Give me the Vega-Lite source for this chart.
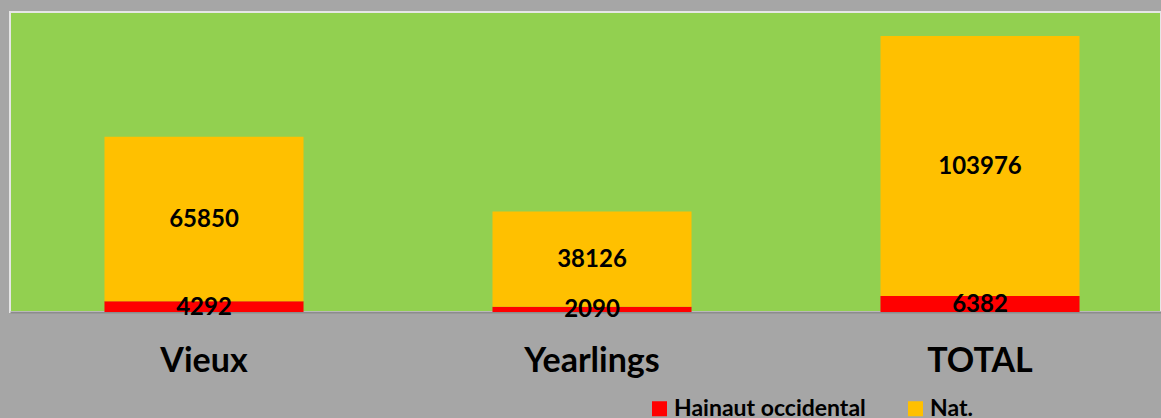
{
  "$schema": "https://vega.github.io/schema/vega-lite/v6.json",
  "autosize": "none",
  "width": 1151,
  "height": 300,
  "padding": {"left": 10, "top": 12, "right": 0, "bottom": 106},
  "background": "#a6a6a6",
  "view": {"fill": "#92d050", "stroke": "#e6e6e6", "strokeWidth": 2},
  "data": {
    "values": [
      {"cat": "Vieux", "series": "Hainaut occidental", "value": 4292},
      {"cat": "Vieux", "series": "Nat.", "value": 65850},
      {"cat": "Yearlings", "series": "Hainaut occidental", "value": 2090},
      {"cat": "Yearlings", "series": "Nat.", "value": 38126},
      {"cat": "TOTAL", "series": "Hainaut occidental", "value": 6382},
      {"cat": "TOTAL", "series": "Nat.", "value": 103976}
    ]
  },
  "transform": [
    {"stack": "value", "groupby": ["cat"], "sort": [{"field": "series", "order": "ascending"}], "as": ["v0", "v1"]},
    {"calculate": "(datum.v0 + datum.v1) / 2", "as": "vmid"}
  ],
  "encoding": {
    "x": {
      "field": "cat",
      "type": "nominal",
      "sort": ["Vieux", "Yearlings", "TOTAL"],
      "scale": {"paddingInner": 0.487, "paddingOuter": 0.2435, "range": [0, 1164]},
      "axis": {
        "title": null,
        "labelAngle": 0,
        "ticks": false,
        "labelFont": "Lato",
        "labelFontWeight": "bold",
        "labelFontSize": 34,
        "labelColor": "#000000",
        "labelPadding": 32,
        "domainColor": "#8c8c8c",
        "domainWidth": 2,
        "grid": false
      }
    }
  },
  "layer": [
    {
      "mark": {"type": "bar"},
      "encoding": {
        "y": {"field": "v0", "type": "quantitative", "scale": {"domain": [0, 120000], "nice": false}, "axis": null},
        "y2": {"field": "v1"},
        "color": {
          "field": "series",
          "type": "nominal",
          "scale": {"domain": ["Hainaut occidental", "Nat."], "range": ["#ff0000", "#ffc000"]},
          "legend": {
            "title": null,
            "orient": "none",
            "direction": "horizontal",
            "legendX": 638,
            "legendY": 385,
            "symbolType": "square",
            "symbolSize": 225,
            "symbolStrokeWidth": 0,
            "symbolOpacity": 1,
            "labelFont": "Lato",
            "labelFontWeight": "bold",
            "labelFontSize": 23,
            "labelColor": "#000000",
            "labelOffset": 3,
            "columnPadding": 38,
            "labelLimit": 400
          }
        }
      }
    },
    {
      "mark": {"type": "text", "font": "Lato", "fontWeight": "bold", "fontSize": 24, "color": "#000000", "baseline": "middle", "align": "center", "dy": 1},
      "encoding": {
        "y": {"field": "vmid", "type": "quantitative"},
        "text": {"field": "value", "type": "quantitative", "format": "d"}
      }
    }
  ]
}
